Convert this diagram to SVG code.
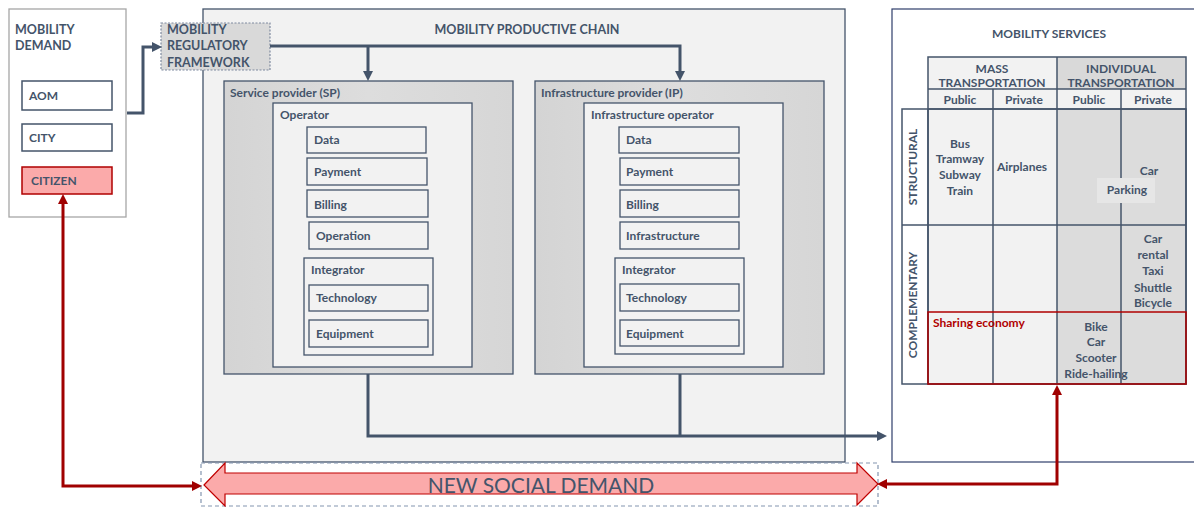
<svg xmlns="http://www.w3.org/2000/svg" width="1194" height="507" viewBox="0 0 1194 507">
<style>
text{font-family:Lato,"Liberation Sans",sans-serif;font-weight:bold;font-size:12px;fill:#44546A}
.t{font-size:12.5px}
.c{text-anchor:middle}
.box{fill:#f2f2f2;stroke:#44546A;stroke-width:1.3}
.wbox{fill:#ffffff;stroke:#44546A;stroke-width:1.5}
.gbox{fill:#d9d9d9;stroke:#44546A;stroke-width:1.3}
.cell{stroke:#44546A;stroke-width:1.5}
.ln{fill:none;stroke:#44546A;stroke-width:3}
.rl{fill:none;stroke:#A00000;stroke-width:3}
</style>
<defs>
<marker id="ad" viewBox="0 0 10 10" refX="0" refY="5" markerUnits="userSpaceOnUse" markerWidth="10" markerHeight="11" orient="auto"><path d="M0,0 L10,5 L0,10 z" fill="#44546A"/></marker>
<marker id="ar" viewBox="0 0 10 10" refX="0" refY="5" markerUnits="userSpaceOnUse" markerWidth="10" markerHeight="11" orient="auto-start-reverse"><path d="M0,0 L10,5 L0,10 z" fill="#A00000"/></marker>
<linearGradient id="gsp" x1="0" x2="1" y1="0" y2="0"><stop offset="0" stop-color="#d4d4d4"/><stop offset="0.5" stop-color="#dddddd"/><stop offset="1" stop-color="#d6d6d6"/></linearGradient>
</defs>

<g id="mobility-demand">
<rect x="9" y="9" width="117" height="208" fill="#fff" stroke="#a6a6a6" stroke-width="1.3"/>
<text x="15" y="34" class="t">MOBILITY</text>
<text x="15" y="50" class="t">DEMAND</text>
</g>
<g id="aom"><rect x="22" y="81" width="90" height="29" class="wbox"/><text x="29" y="100">AOM</text></g>
<g id="city"><rect x="22" y="124" width="90" height="27" class="wbox"/><text x="29" y="142">CITY</text></g>
<g id="citizen"><rect x="22" y="167" width="90" height="27" fill="#FBAAAA" stroke="#B00000" stroke-width="1.5"/><text x="31" y="185">CITIZEN</text></g>

<g id="productive-chain">
<rect x="203" y="9" width="642" height="453" class="box"/>
<text x="527" y="34" class="c t">MOBILITY PRODUCTIVE CHAIN</text>
</g>

<g id="regulatory-framework">
<rect x="161" y="23" width="109" height="47" fill="#d9d9d9" stroke="#7f8aa0" stroke-width="1.2" stroke-dasharray="2,1.5"/>
<text x="167" y="34" class="t">MOBILITY</text>
<text x="167" y="50" class="t">REGULATORY</text>
<text x="167" y="67" class="t">FRAMEWORK</text>
</g>

<g id="service-provider">
<rect x="224" y="81" width="289" height="293" fill="url(#gsp)" stroke="#44546A" stroke-width="1.3"/>
<text x="230" y="97">Service provider (SP)</text>
</g>
<g id="operator">
<rect x="273" y="103" width="199" height="264" class="box"/>
<text x="280" y="119">Operator</text>
</g>
<g id="sp-data"><rect x="307" y="127" width="119" height="26" class="box"/><text x="314" y="144">Data</text></g>
<g id="sp-payment"><rect x="307" y="158" width="120" height="27" class="box"/><text x="314" y="176">Payment</text></g>
<g id="sp-billing"><rect x="307" y="190" width="121" height="27" class="box"/><text x="314" y="209">Billing</text></g>
<g id="sp-operation"><rect x="309" y="222" width="119" height="27" class="box"/><text x="316" y="240">Operation</text></g>
<g id="sp-integrator"><rect x="304" y="258" width="129" height="97" class="box"/><text x="311" y="274">Integrator</text></g>
<g id="sp-technology"><rect x="309" y="285" width="119" height="26" class="box"/><text x="316" y="302">Technology</text></g>
<g id="sp-equipment"><rect x="309" y="320" width="119" height="27" class="box"/><text x="316" y="338">Equipment</text></g>

<g id="infrastructure-provider">
<rect x="535" y="81" width="289" height="293" fill="url(#gsp)" stroke="#44546A" stroke-width="1.3"/>
<text x="541" y="97">Infrastructure provider (IP)</text>
</g>
<g id="infrastructure-operator">
<rect x="584" y="103" width="199" height="264" class="box"/>
<text x="591" y="119">Infrastructure operator</text>
</g>
<g id="ip-data"><rect x="619" y="127" width="120" height="26" class="box"/><text x="626" y="144">Data</text></g>
<g id="ip-payment"><rect x="620" y="158" width="119" height="27" class="box"/><text x="626" y="176">Payment</text></g>
<g id="ip-billing"><rect x="620" y="190" width="119" height="27" class="box"/><text x="626" y="209">Billing</text></g>
<g id="ip-infrastructure"><rect x="620" y="222" width="119" height="27" class="box"/><text x="626" y="240">Infrastructure</text></g>
<g id="ip-integrator"><rect x="615" y="258" width="129" height="96" class="box"/><text x="622" y="274">Integrator</text></g>
<g id="ip-technology"><rect x="620" y="284" width="119" height="27" class="box"/><text x="626" y="302">Technology</text></g>
<g id="ip-equipment"><rect x="620" y="320" width="119" height="26" class="box"/><text x="626" y="338">Equipment</text></g>

<g id="mobility-services">
<rect x="892" y="9" width="310" height="453" fill="#fff" stroke="#2F3E6B" stroke-width="1.2"/>
<text x="1049" y="38" class="c">MOBILITY SERVICES</text>
<!-- fills -->
<rect x="928" y="57" width="129" height="32" fill="#f2f2f2"/>
<rect x="1057" y="57" width="129" height="32" fill="#d9d9d9"/>
<rect x="928" y="89" width="258" height="20" fill="#f2f2f2"/>
<rect x="902" y="109" width="26" height="275" fill="#fff"/>
<rect x="928" y="109" width="129" height="275" fill="#f2f2f2"/>
<rect x="1057" y="109" width="129" height="275" fill="#dcdcdc"/>
<rect x="1097" y="178" width="58" height="25" fill="#e6e6e6"/>
<!-- grid lines -->
<g class="cell" fill="none">
<rect x="928" y="57" width="258" height="327"/>
<rect x="902" y="109" width="284" height="275"/>
<line x1="928" y1="89" x2="1186" y2="89"/>
<line x1="928" y1="109" x2="1186" y2="109"/>
<line x1="902" y1="225" x2="1186" y2="225"/>
<line x1="928" y1="109" x2="928" y2="384"/>
<line x1="1057" y1="57" x2="1057" y2="384"/>
<line x1="993" y1="89" x2="993" y2="384"/>
<line x1="1121" y1="89" x2="1121" y2="178"/>
<line x1="1121" y1="203" x2="1121" y2="384"/>
</g>
<rect x="928" y="312" width="258" height="72" fill="none" stroke="#B00000" stroke-width="1.5"/>
<text x="992" y="73" class="c">MASS</text>
<text x="992" y="87" class="c">TRANSPORTATION</text>
<text x="1121" y="73" class="c">INDIVIDUAL</text>
<text x="1121" y="87" class="c">TRANSPORTATION</text>
<text x="960" y="104" class="c">Public</text>
<text x="1024" y="104" class="c">Private</text>
<text x="1089" y="104" class="c">Public</text>
<text x="1153" y="104" class="c">Private</text>
<text transform="translate(917,167) rotate(-90)" class="c">STRUCTURAL</text>
<text transform="translate(917,305) rotate(-90)" class="c">COMPLEMENTARY</text>
<text x="960" y="148" class="c">Bus</text>
<text x="960" y="163" class="c">Tramway</text>
<text x="960" y="179" class="c">Subway</text>
<text x="960" y="195" class="c">Train</text>
<text x="1022" y="171" class="c">Airplanes</text>
<text x="1149" y="175" class="c">Car</text>
<text x="1127" y="194" class="c">Parking</text>
<text x="1153" y="243" class="c">Car</text>
<text x="1153" y="259" class="c">rental</text>
<text x="1153" y="275" class="c">Taxi</text>
<text x="1153" y="292" class="c">Shuttle</text>
<text x="1153" y="307" class="c">Bicycle</text>
<text x="933" y="327" style="fill:#B00000">Sharing economy</text>
<text x="1096" y="331" class="c">Bike</text>
<text x="1096" y="346" class="c">Car</text>
<text x="1096" y="362" class="c">Scooter</text>
<text x="1096" y="378" class="c">Ride-hailing</text>
</g>

<g id="new-social-demand">
<rect x="201" y="463" width="677" height="43" fill="#fff" stroke="#8496B0" stroke-width="1.2" stroke-dasharray="4,3"/>
<polygon points="204,485 225,463 225,473 857,473 857,463 878,484 857,505 857,494 225,494 225,506" fill="#FBAAAA" stroke="#C00000" stroke-width="1.2"/>
<text x="541" y="493" class="c" style="font-weight:normal;font-size:21px">NEW SOCIAL DEMAND</text>
</g>

<g id="connectors">
<path d="M127,113 H143 V47 H152" class="ln" marker-end="url(#ad)"/>
<path d="M270,46 H680 V71" class="ln" marker-end="url(#ad)"/>
<path d="M368,46 V71" class="ln" marker-end="url(#ad)"/>
<path d="M368,374 V436 H877" class="ln" marker-end="url(#ad)"/>
<path d="M680,374 V436" class="ln"/>
<path d="M63,204 V486 H192" class="rl" marker-start="url(#ar)" marker-end="url(#ar)"/>
<path d="M887,484 H1057 V395" class="rl" marker-start="url(#ar)" marker-end="url(#ar)"/>
</g>
</svg>
